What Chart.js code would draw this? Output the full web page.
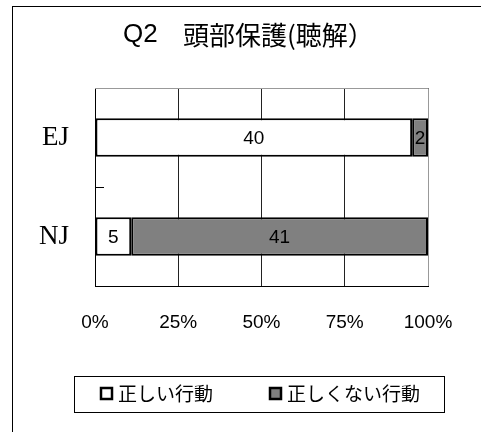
<!DOCTYPE html>
<html>
<head>
<meta charset="utf-8">
<script src="https://cdn.jsdelivr.net/npm/chart.js@4/dist/chart.umd.min.js"></script>
<style>
  body { margin: 0; background: #fff; }
  canvas { display: block; }
</style>
</head>
<body>
<canvas id="myChart" width="481" height="432"></canvas>
<script>
const titleHead = 'Q2';
const titleText = '頭部保護(聴解）';
const groups = ['EJ', 'NJ'];
const seriesNames = ['正しい行動', '正しくない行動'];
const correctCounts = [40, 5];
const wrongCounts = [2, 41];
const xTicks = [0, 25, 50, 75, 100];

// percent of each row
function toPct(arr) {
    return arr.map((v, i) => v / (correctCounts[i] + wrongCounts[i]) * 100);
}
const countsBySeries = [correctCounts, wrongCounts];

// frame, title, legend, labels inside bars
const decorPlugin = {
    id: 'decor',
    beforeDraw(chart) {
        const ctx = chart.ctx;
        ctx.save();
        ctx.fillStyle = '#fff';
        ctx.fillRect(0, 0, chart.width, chart.height);
        ctx.strokeStyle = '#000';
        ctx.lineWidth = 1;
        ctx.strokeRect(12.5, 6.5, 600, 600);
        ctx.fillStyle = '#000';
        ctx.textAlign = 'left';
        ctx.textBaseline = 'middle';
        ctx.font = '26px "Liberation Sans"';
        ctx.fillText(titleHead, 123, 35);
        ctx.font = '26px "Noto Sans CJK JP"';
        ctx.fillText(titleText, 183, 35);
        ctx.restore();
    },
    beforeDatasetsDraw(chart) {
        // gray top / right edge of plot
        const a = chart.chartArea;
        const ctx = chart.ctx;
        ctx.save();
        ctx.strokeStyle = '#999';
        ctx.lineWidth = 1;
        ctx.beginPath();
        ctx.moveTo(a.left, a.top + 0.5);
        ctx.lineTo(a.right + 0.5, a.top + 0.5);
        ctx.lineTo(a.right + 0.5, a.bottom);
        ctx.stroke();
        ctx.restore();
    },
    afterDatasetsDraw(chart) {
        const ctx = chart.ctx;
        ctx.save();
        ctx.fillStyle = '#000';
        ctx.font = '19px "Liberation Sans"';
        ctx.textAlign = 'center';
        ctx.textBaseline = 'middle';
        chart.data.datasets.forEach((ds, di) => {
            const meta = chart.getDatasetMeta(di);
            meta.data.forEach((bar, i) => {
                ctx.fillText(countsBySeries[di][i], (bar.x + bar.base) / 2, bar.y + 1);
            });
        });
        ctx.restore();
    },
    afterDraw(chart) {
        const ctx = chart.ctx;
        ctx.save();
        ctx.strokeStyle = '#000';
        ctx.lineWidth = 1;
        ctx.strokeRect(74.5, 376.5, 370, 36);
        ctx.font = '19px "Noto Sans CJK JP"';
        ctx.textBaseline = 'middle';
        ctx.textAlign = 'left';
        const boxX = [100, 269];
        chart.data.datasets.forEach((ds, i) => {
            ctx.fillStyle = ds.backgroundColor;
            ctx.fillRect(boxX[i], 387, 13, 13);
            ctx.lineWidth = 2.5;
            ctx.strokeStyle = '#000';
            ctx.strokeRect(boxX[i] + 1, 388, 11, 11);
            ctx.fillStyle = '#000';
            ctx.fillText(ds.label, boxX[i] + 18, 394);
        });
        ctx.restore();
    }
};

const ctx = document.getElementById('myChart').getContext('2d');
const statisticChart = new Chart(ctx, {
    type: 'bar',
    data: {
        labels: groups,
        datasets: [{
            label: seriesNames[0],
            data: toPct(correctCounts),
            backgroundColor: '#ffffff',
            borderColor: '#000',
            borderWidth: 2,
            borderSkipped: false,
            barPercentage: 0.39,
            categoryPercentage: 1
        }, {
            label: seriesNames[1],
            data: toPct(wrongCounts),
            backgroundColor: '#808080',
            borderColor: '#000',
            borderWidth: 2,
            borderSkipped: false,
            barPercentage: 0.39,
            categoryPercentage: 1
        }]
    },
    options: {
        indexAxis: 'y',
        responsive: false,
        animation: false,
        layout: { padding: { top: 88, left: 0, right: 53, bottom: 86 } },
        plugins: {
            title: { display: false },
            tooltip: { enabled: false },
            legend: { display: false }
        },
        scales: {
            x: {
                stacked: true,
                min: 0,
                max: 100,
                afterBuildTicks(scale) {
                    scale.ticks = xTicks.map(v => ({ value: v }));
                },
                afterFit(scale) { scale.height = 60; },
                ticks: {
                    color: '#000',
                    font: { family: '"Liberation Sans"', size: 19 },
                    padding: 25,
                    maxRotation: 0,
                    callback: v => v + '%'
                },
                grid: { color: '#222', drawTicks: false },
                border: { color: '#000', width: 1 }
            },
            y: {
                stacked: true,
                afterFit(scale) { scale.width = 95; },
                ticks: {
                    color: '#000',
                    font: { family: '"Liberation Serif"', size: 27 },
                    padding: 35
                },
                grid: {
                    display: true,
                    offset: true,
                    drawOnChartArea: false,
                    drawTicks: true,
                    tickLength: -9,
                    color: '#000'
                },
                border: { color: '#000', width: 1 }
            }
        }
    },
    plugins: [decorPlugin]
});
</script>
</body>
</html>
